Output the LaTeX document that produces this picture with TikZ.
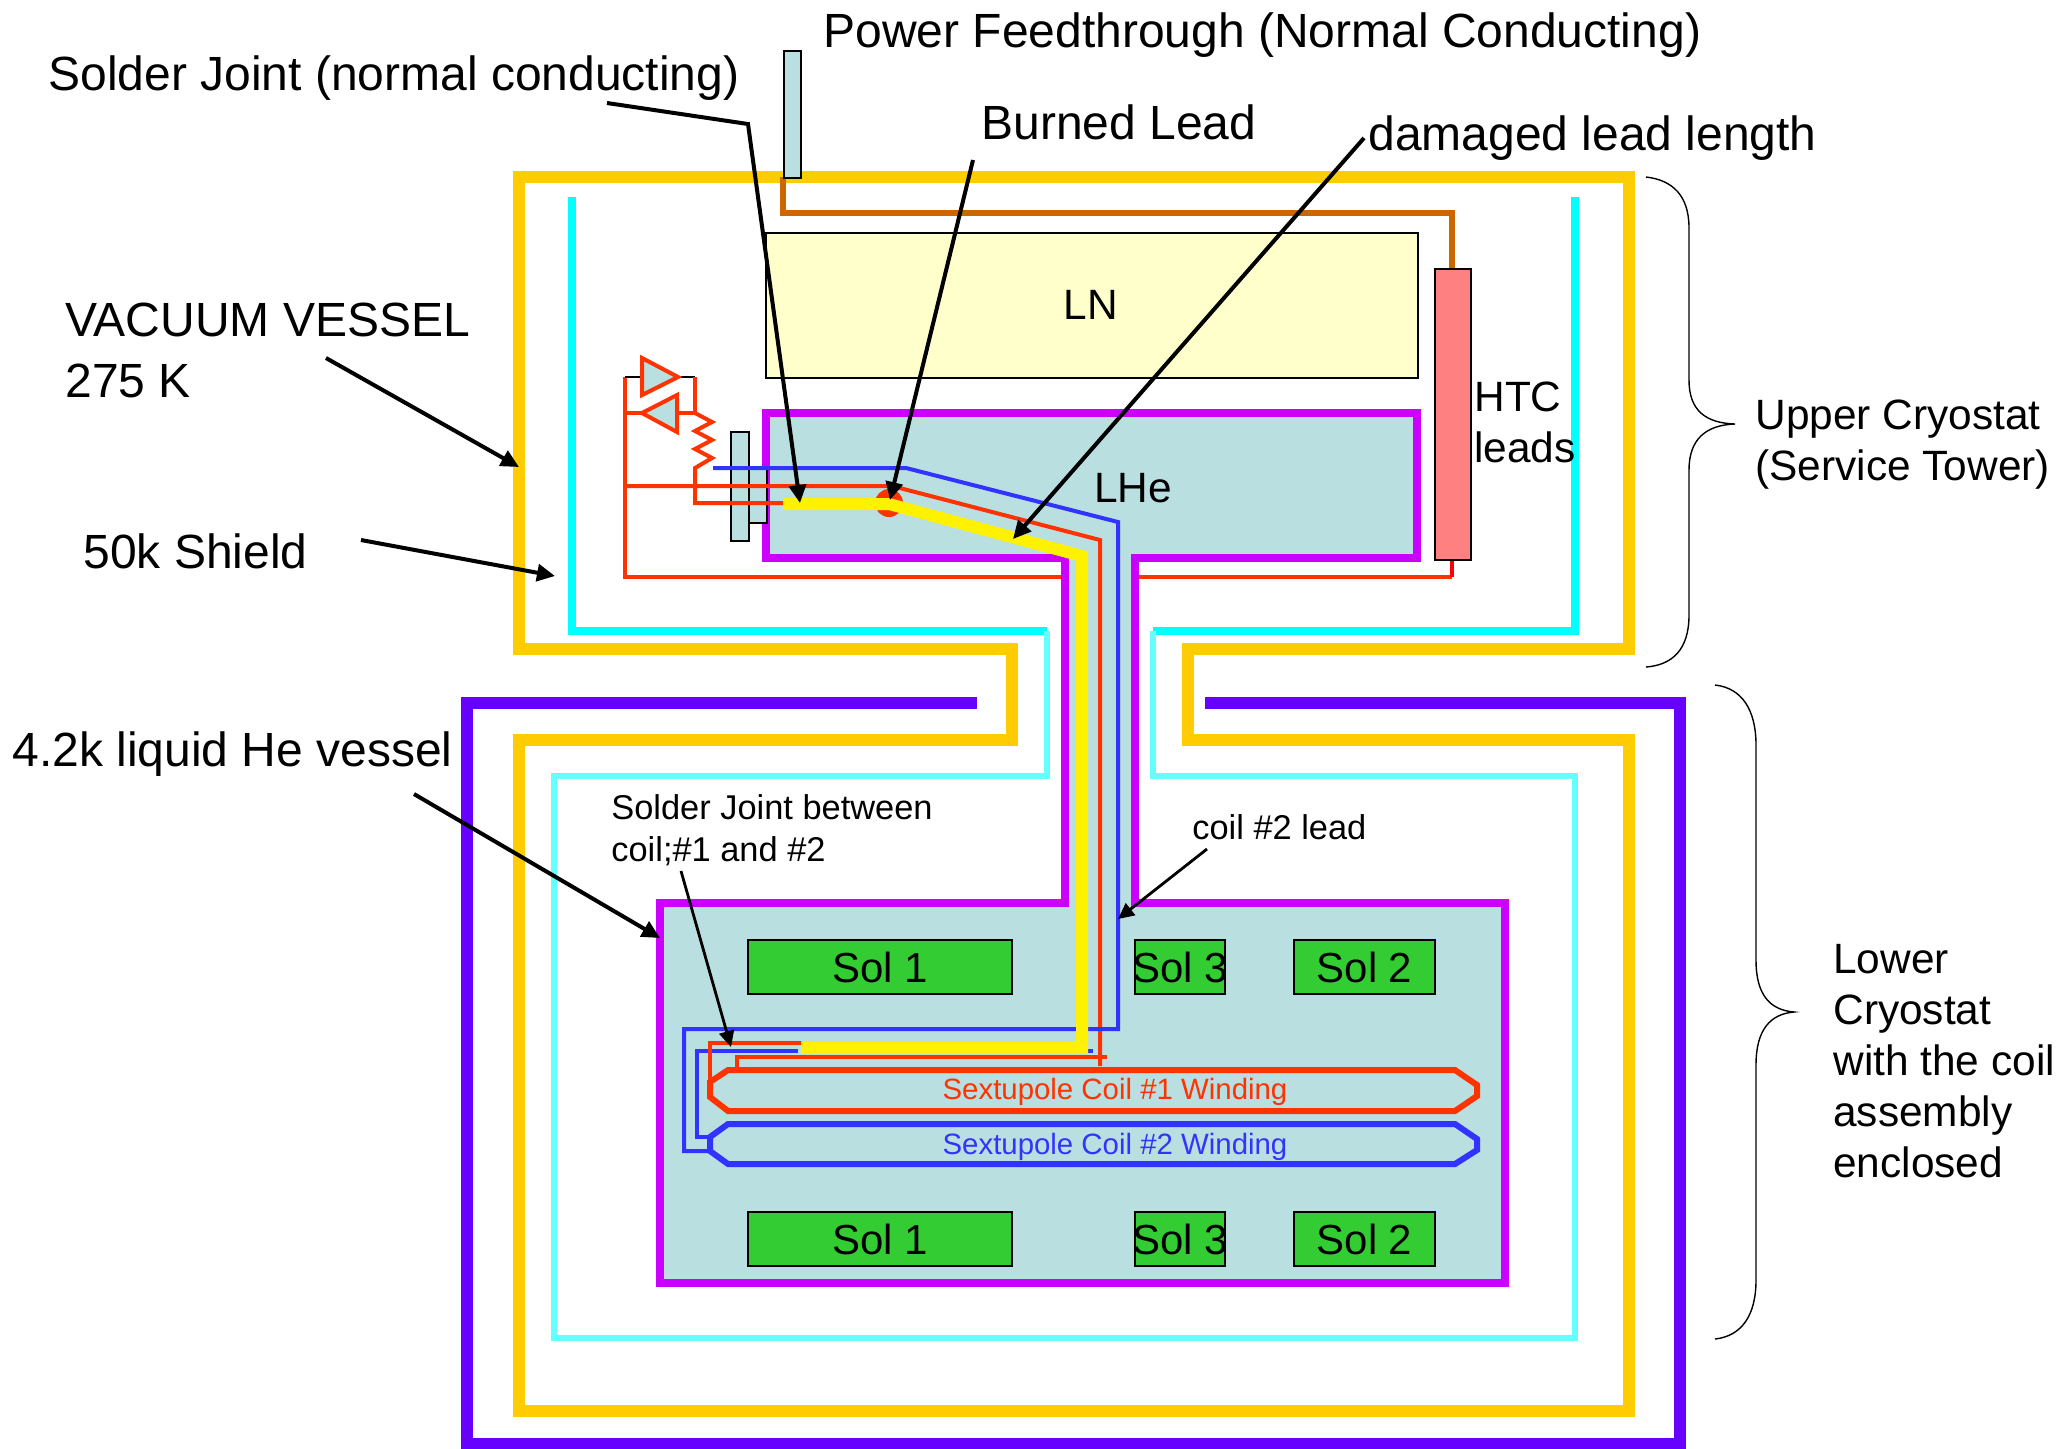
\documentclass[tikz,border=0pt]{standalone}
\usepackage{fontspec}
\setmainfont{Liberation Sans}
\usetikzlibrary{arrows.meta}
\definecolor{amber}{HTML}{FFCC00}
\definecolor{violetv}{HTML}{6600FF}
\definecolor{cyanA}{HTML}{00FFFF}
\definecolor{cyanB}{HTML}{66FFFF}
\definecolor{magv}{HTML}{CC00FF}
\definecolor{bluehe}{HTML}{B9DFE1}
\definecolor{lnfill}{HTML}{FFFFCC}
\definecolor{htcfill}{HTML}{FF8080}
\definecolor{solgreen}{HTML}{33CC33}
\definecolor{wirered}{HTML}{FF3300}
\definecolor{wireblue}{HTML}{3333FF}
\definecolor{brown}{HTML}{CC6600}
\tikzset{
  x=0.5pt,y=-0.5pt,
  lbl/.style={anchor=west,inner sep=0pt,font=\fontsize{24}{26}\selectfont,align=left},
  lblm/.style={anchor=west,inner sep=0pt,font=\fontsize{21.2}{25.5}\selectfont,align=left},
  lbls/.style={anchor=west,inner sep=0pt,font=\fontsize{17.2}{21}\selectfont,align=left},
  lblc/.style={anchor=center,inner sep=0pt,font=\fontsize{14.7}{17}\selectfont},
  solbox/.style={draw=black,line width=1pt,fill=solgreen,inner sep=0pt,anchor=north west},
  soltext/.style={font=\fontsize{21}{24}\selectfont,inner sep=0pt},
  darrow/.style={draw=black,line width=2pt,-{Stealth[length=9pt,width=8.5pt,inset=0pt]}},
  tarrow/.style={draw=black,line width=1.4pt,-{Stealth[length=8pt,width=7.5pt,inset=0pt]}},
  wire/.style={line width=2pt,color=wirered},
  bwire/.style={line width=2pt,color=wireblue},
  ywire/.style={line width=6pt,color=yellow},
  coilR/.style={line width=3pt,color=wirered},
  coilB/.style={line width=3pt,color=wireblue},
  brace/.style={line width=0.7pt,color=black},
  thinbox/.style={draw=black,line width=1pt,fill=bluehe}
}
\begin{document}
\begin{tikzpicture}
\useasboundingbox (0,0) rectangle (2061,1448);
% outer shells
\draw[line width=6pt,amber] (1188,649) -- (1629,649) -- (1629,177) -- (519,177) -- (519,649) -- (1012,649) -- (1012,740) -- (519,740) -- (519,1411) -- (1629,1411) -- (1629,740) -- (1188,740) -- cycle;
\draw[line width=6pt,violetv] (977,703) -- (467,703) -- (467,1444) -- (1680,1444) -- (1680,703) -- (1205,703);
\draw[line width=3.6pt,cyanA] (572,197) -- (572,631) -- (1047,631);
\draw[line width=3.6pt,cyanA] (1153,631) -- (1575,631) -- (1575,197);
\draw[line width=2.8pt,cyanB] (1047,631) -- (1047,776) -- (554,776) -- (554,1338) -- (1575,1338) -- (1575,776) -- (1153,776) -- (1153,631);
% LN
\node[draw=black,line width=1pt,fill=lnfill,minimum width=326pt,minimum height=72.5pt,inner sep=0pt,anchor=north west] (lnbox) at (765,232) {};
% red return, behind the vessel
\draw[line width=2pt,wirered] (625,377) -- (625,577) -- (1452,577);
\draw[line width=2pt,red] (1452,577) -- (1452,559);
% Helium vessel
\draw[line width=3.8pt,magv,fill=bluehe] (1065,558) -- (766,558) -- (766,413) -- (1417,413) -- (1417,558) -- (1135,558) -- (1135,903) -- (1505,903) -- (1505,1283) -- (660,1283) -- (660,903) -- (1065,903) -- cycle;
% HTC and feedthrough
\draw[line width=2.6pt,brown] (783,177) -- (783,213) -- (1452,213) -- (1452,268);
\node[draw=black,line width=1pt,fill=htcfill,minimum width=18pt,minimum height=145.5pt,inner sep=0pt,anchor=north west] (htc) at (1434,268) {};
\node[thinbox,minimum width=8.5pt,minimum height=63.5pt,inner sep=0pt,anchor=north west] (feed) at (783,50) {};
% flange
\node[thinbox,minimum width=9pt,minimum height=27pt,inner sep=0pt,anchor=north west] (flangeb) at (748,468) {};
\node[thinbox,minimum width=9pt,minimum height=54.5pt,inner sep=0pt,anchor=north west] (flangea) at (730,431) {};
% diodes and resistor
\draw[line width=1pt,black] (625,377) -- (642,377) (678,377) -- (695,377);
\draw[wire] (695,377) -- (695,413);
\draw[wire] (625,413) -- (642,413) (677,413) -- (695,413);
\draw[wire,fill=bluehe] (642,358) -- (642,395) -- (678,377) -- cycle;
\draw[wire,fill=bluehe] (642,413) -- (677,395) -- (677,432) -- cycle;
\draw[wire] (695,413) -- (712,422) -- (695,431) -- (712,440) -- (695,449) -- (712,458) -- (695,468) -- (695,503) -- (783,503);
% Red burn spot
\fill[wirered] (889,503) circle (14);
% Leads
\draw[wire] (625,486) -- (892,486) -- (1100,540) -- (1100,1066);
\draw[bwire] (713,468) -- (906,468) -- (1118,522) -- (1118,1029) -- (684,1029) -- (684,1151) -- (710,1151);
\draw[bwire] (798,1051) -- (697,1051) -- (697,1137) -- (712,1137);
\draw[bwire] (1083,1051) -- (1093,1051);
\draw[wire] (801,1043) -- (710,1043) -- (710,1082);
\draw[wire] (737,1070) -- (737,1057) -- (1107,1057);
\draw[ywire] (783,504) -- (889,504) -- (1082,556) -- (1082,1048) -- (801,1048);
% Coils
\node[lblc,text=wirered] (coilonelabel) at (1115,1092) {Sextupole Coil \#1 Winding};
\node[lblc,text=wireblue] (coiltwolabel) at (1115,1147) {Sextupole Coil \#2 Winding};
\draw[coilR] (710,1082) -- (728,1070) -- (1455,1070) -- (1477,1085) -- (1477,1096) -- (1455,1111) -- (728,1111) -- (710,1097) -- cycle;
\draw[coilB] (710,1137) -- (728,1124) -- (1455,1124) -- (1477,1139) -- (1477,1150) -- (1455,1164) -- (728,1164) -- (710,1151) -- cycle;
% Sol boxes
\node[solbox,minimum width=132pt,minimum height=27pt] (solA) at (747,939) {};
\node[soltext] (solAt) at (solA.center) {Sol 1};
\node[solbox,minimum width=45pt,minimum height=27pt] (solC) at (1134,939) {};
\node[soltext] (solCt) at (solC.center) {Sol 3};
\node[solbox,minimum width=70.5pt,minimum height=27pt] (solB) at (1293,939) {};
\node[soltext] (solBt) at (solB.center) {Sol 2};
\node[solbox,minimum width=132pt,minimum height=27pt] (solD) at (747,1211) {};
\node[soltext] (solDt) at (solD.center) {Sol 1};
\node[solbox,minimum width=45pt,minimum height=27pt] (solF) at (1134,1211) {};
\node[soltext] (solFt) at (solF.center) {Sol 3};
\node[solbox,minimum width=70.5pt,minimum height=27pt] (solE) at (1293,1211) {};
\node[soltext] (solEt) at (solE.center) {Sol 2};
% Labels
\node[lbl] (power) at (823,35) {Power Feedthrough (Normal Conducting)};
\node[lbl] (solder) at (48,78) {Solder Joint (normal conducting)};
\node[lbl] (burned) at (981,122) {Burned Lead};
\node[lbl] (damaged) at (1368,138) {damaged lead length};
\node[lbl] (vacuum) at (65,350) {VACUUM VESSEL\\[4.5pt]275 K};
\node[lbl] (shield) at (83,551) {50k Shield};
\node[lbl] (lhevessel) at (12,754) {4.2k liquid He vessel};
\node[lblm,anchor=center] (ln) at (1091,305) {LN};
\node[lblm,anchor=center] (lhe) at (1133,488) {LHe};
\node[lblm] (htclabel) at (1474,422) {HTC\\leads};
\node[lblm] (upper) at (1755,445) {Upper Cryostat\\(Service Tower)};
\node[lblm] (lower) at (1833,1061) {Lower\\Cryostat\\with the coil\\assembly\\enclosed};
\node[lbls] (jointb) at (611,830) {Solder Joint between\\coil;\#1 and \#2};
\node[lbls] (coilleadl) at (1192,827) {coil \#2 lead};
% Arrows
\coordinate (a1) at (607,103); \coordinate (a1m) at (748,124); \coordinate (a1e) at (800,503);
\coordinate (a2) at (973,160); \coordinate (a2e) at (890,500);
\coordinate (a3) at (1364,138); \coordinate (a3e) at (1013,539);
\coordinate (a4) at (326,358); \coordinate (a4e) at (519,467);
\coordinate (a5) at (361,540); \coordinate (a5e) at (555,576);
\coordinate (a6) at (414,794); \coordinate (a6e) at (660,938);
\coordinate (a7) at (681,871); \coordinate (a7e) at (731,1047);
\coordinate (a8) at (1207,849); \coordinate (a8e) at (1118,919);
\draw[darrow] (a1) -- (a1m) -- (a1e);
\draw[darrow] (a2) -- (a2e);
\draw[darrow] (a3) -- (a3e);
\draw[darrow] (a4) -- (a4e);
\draw[darrow] (a5) -- (a5e);
\draw[darrow] (a6) -- (a6e);
\draw[tarrow] (a7) -- (a7e);
\draw[tarrow] (a8) -- (a8e);
% Braces
\draw[brace] (1646,177) .. controls (1672,180) and (1689,195) .. (1689,228) -- (1689,380) .. controls (1689,410) and (1705,423) .. (1735,424) .. controls (1705,425) and (1689,440) .. (1689,470) -- (1689,615) .. controls (1689,650) and (1672,665) .. (1646,667);
\draw[brace] (1715,685) .. controls (1742,688) and (1756,710) .. (1756,745) -- (1756,960) .. controls (1756,995) and (1770,1010) .. (1794,1012) .. controls (1770,1014) and (1756,1030) .. (1756,1065) -- (1756,1280) .. controls (1756,1315) and (1742,1336) .. (1715,1339);
\end{tikzpicture}
\end{document}
